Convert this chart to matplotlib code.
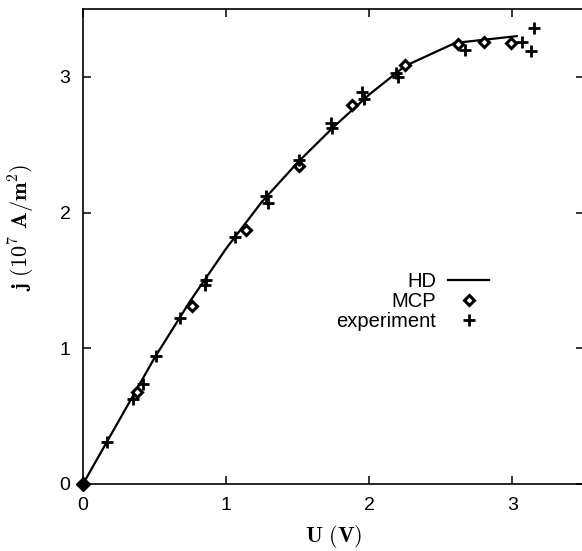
import matplotlib.pyplot as plt

plt.rcParams['font.family'] = ['Liberation Sans', 'DejaVu Sans']
plt.rcParams['mathtext.fontset'] = 'cm'

# HD (hydrodynamic) curve
hd_u = [0.0, 0.5, 0.75, 1.0, 1.25, 1.5, 1.75, 2.0, 2.25, 2.6, 3.03]
hd_j = [0.0, 0.93, 1.35, 1.735, 2.08, 2.37, 2.63, 2.87, 3.08, 3.25, 3.30]

# MCP simulation points
mcp_u = [0.0, 0.38, 0.76, 1.14, 1.51, 1.88, 2.25, 2.62, 2.80, 2.99]
mcp_j = [0.0, 0.68, 1.31, 1.87, 2.34, 2.79, 3.09, 3.24, 3.26, 3.25]

# experiment
exp_u = [0.17, 0.35, 0.42, 0.51, 0.68, 0.85, 0.86, 1.06, 1.28, 1.29, 1.51,
         1.73, 1.74, 1.95, 1.96, 2.19, 2.20, 2.67, 3.07, 3.15, 3.13]
exp_j = [0.31, 0.63, 0.74, 0.94, 1.22, 1.47, 1.50, 1.82, 2.12, 2.07, 2.39,
         2.66, 2.62, 2.89, 2.84, 3.03, 3.00, 3.20, 3.26, 3.36, 3.19]

fig = plt.figure(figsize=(5.82, 5.51), dpi=100)
ax = fig.add_axes([83 / 582, 67 / 551, 501 / 582, 475 / 551])

ax.plot(hd_u, hd_j, color='black', lw=1.6, label='HD', zorder=2)
ax.plot(mcp_u, mcp_j, ls='none', marker='D', ms=5, mfc='white', mec='black',
        mew=2.2, label='MCP', zorder=3, clip_on=False)
# the point at the origin looks filled in the original
ax.plot(mcp_u[:1], mcp_j[:1], ls='none', marker='D', ms=7, color='black',
        zorder=3, clip_on=False)
ax.plot(exp_u, exp_j, ls='none', marker='+', ms=8, mec='black', mew=2,
        label='experiment', zorder=4)

ax.set_xlim(0, 3.5)
ax.set_ylim(0, 3.5)
ax.set_xticks([0, 1, 2, 3])
ax.set_yticks([0, 1, 2, 3])
ax.tick_params(direction='in', top=True, right=True, length=6, width=1.1,
               labelsize=14, pad=9)
for sp in ax.spines.values():
    sp.set_linewidth(1.2)

ax.set_xlabel(r'$\mathbf{U\ (V)}$', fontsize=16)
ax.set_ylabel(r'$\mathbf{j\ (10}^{\mathbf{7}}\mathbf{\ A/m}^{\mathbf{2}}\mathbf{)}$',
              fontsize=16)
ax.xaxis.set_label_coords(0.5, -0.083)
ax.yaxis.set_label_coords(-0.092, 0.54)

ax.legend(loc='center right', bbox_to_anchor=(0.83, 0.385), frameon=False,
          markerfirst=False, fontsize=14.5, labelspacing=0.05,
          handlelength=2.0, handletextpad=0.6, borderpad=0)

fig.savefig('out.png', dpi=100)
